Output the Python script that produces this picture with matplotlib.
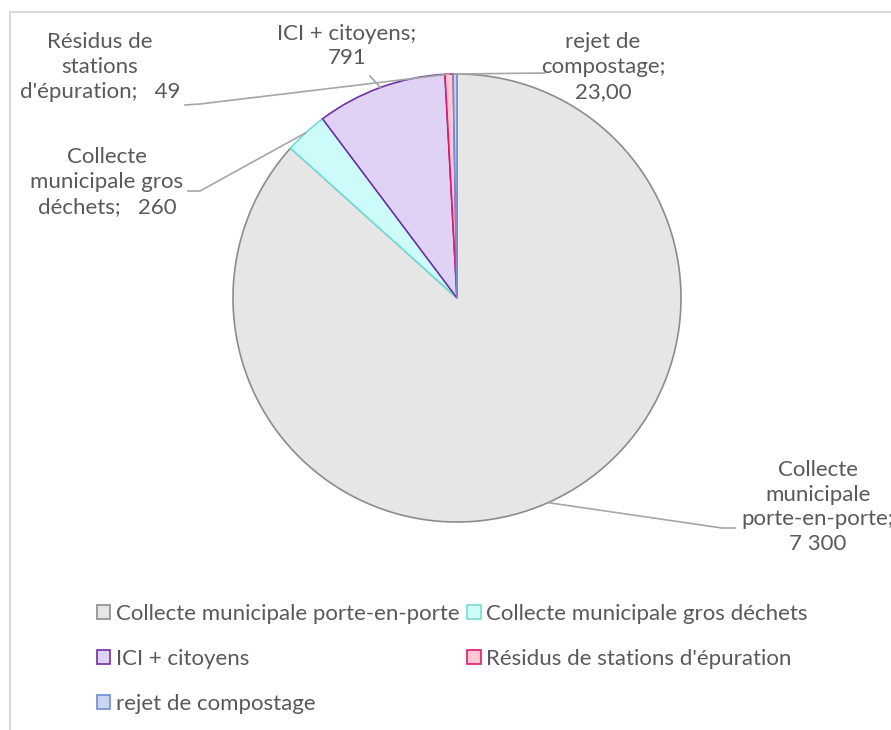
import numpy as np
import matplotlib
matplotlib.use("Agg")
from matplotlib import pyplot as plt
from matplotlib.patches import Patch, Rectangle

W, H = 891, 730

categories = [
    "Collecte municipale porte-en-porte",
    "Collecte municipale gros déchets",
    "ICI + citoyens",
    "Résidus de stations d'épuration",
    "rejet de compostage",
]
values = [7300, 260, 791, 49, 23]
label_texts = [
    "Collecte\nmunicipale\nporte-en-porte;\n7 300",
    "Collecte\nmunicipale gros\ndéchets;   260",
    "ICI + citoyens;\n791",
    "Résidus de\nstations\nd'épuration;   49",
    "rejet de\ncompostage;\n23,00",
]

fills = ["#e6e6e6", "#cdfbfa", "#e0d2f4", "#ffc6d3", "#c9d5f1"]
edges = ["#8c8c8c", "#6fe0d6", "#7030a0", "#e0186c", "#6f8fd0"]

TEXT = "#595959"
LEAD = "#a6a6a6"
plt.rcParams["font.family"] = ["Lato", "DejaVu Sans"]
FS = 16

# pie geometry in pixels
CX, CY, R = 457, 298, 224


def px(x, y):  # pixel -> data coords of the pie axes
    return (x - CX) / R, (CY - y) / R


# label block centres and leader bends (pixels)
label_pos = [(818, 507), (107, 182), (347, 46), (100, 67), (603, 67)]
leader_pts = [
    [(722, 528), (735, 528)],
    [(200, 191), (188, 191)],
    [(370, 76)],
    [(200, 104), (185, 105)],
    [(545, 73)],
]

fig = plt.figure(figsize=(W / 100, H / 100), dpi=100)
fig.patch.set_facecolor("white")

# chart area border
fig.add_artist(Rectangle((10 / W, -0.1), 1.2, (H - 12) / H + 0.1,
                         transform=fig.transFigure, fill=False,
                         edgecolor="#d9d9d9", linewidth=1.5))

ax = fig.add_axes([(CX - R) / W, (H - CY - R) / H, 2 * R / W, 2 * R / H])
wedges, _ = ax.pie(values, startangle=90, counterclock=False, radius=1,
                   colors=fills,
                   wedgeprops=dict(linewidth=1.2))
for w, ec in zip(wedges, edges):
    w.set_edgecolor(ec)
ax.set_xlim(-1, 1)
ax.set_ylim(-1, 1)
ax.set_aspect("auto")
ax.axis("off")

for w, txt, pos, pts in zip(wedges, label_texts, label_pos, leader_pts):
    mid = np.deg2rad((w.theta1 + w.theta2) / 2)
    xs = [np.cos(mid)] + [px(*p)[0] for p in pts]
    ys = [np.sin(mid)] + [px(*p)[1] for p in pts]
    ax.plot(xs, ys, color=LEAD, linewidth=1.2, clip_on=False)
    tx, ty = px(*pos)
    ax.text(tx, ty, txt, ha="center", va="center", fontsize=FS, color=TEXT,
            linespacing=1.3, clip_on=False)

handles = [Patch(facecolor=f, edgecolor=e, linewidth=1.2) for f, e in zip(fills, edges)]
order = [0, 2, 4, 1, 3]
leg = fig.legend([handles[i] for i in order], [categories[i] for i in order],
                 loc="upper left", bbox_to_anchor=(97 / W, (H - 604) / H),
                 ncol=2, frameon=False, fontsize=FS,
                 handlelength=0.6, handleheight=0.6, handletextpad=0.25,
                 labelspacing=1.12, columnspacing=0.35, borderpad=0,
                 borderaxespad=0)
for t in leg.get_texts():
    t.set_color(TEXT)

fig.savefig("out.png", dpi=100)
